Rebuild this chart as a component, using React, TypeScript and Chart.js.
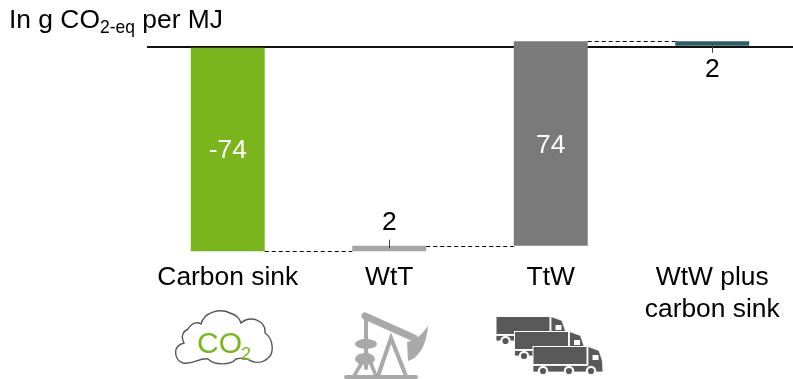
import React, { useEffect, useRef } from "react";
import { Chart, registerables } from "chart.js";

Chart.register(...registerables);

const categories = ["Carbon sink", "WtT", "TtW", ["WtW plus", "carbon sink"]];
const barStarts = [0, -74, -72, 0];
const barEnds = [-74, -72, 2, 2];
const valueLabels = ["-74", "2", "74", "2"];
const barColors = ["#7AB51D", "#A6A6A6", "#7A7A7A", "#2C5F68"];
const labelColors = ["#FFFFFF", "#000000", "#FFFFFF", "#000000"];
const FONT = "'Liberation Sans', Arial, sans-serif";

const waterfallPlugin = {
  id: "waterfallDecor",
  afterDatasetsDraw(chart: any) {
    const { ctx, scales } = chart;
    const y = scales.y;
    const bars = chart.getDatasetMeta(0).data;
    ctx.save();
    // dashed connectors between consecutive bars
    ctx.strokeStyle = "#000000";
    ctx.lineWidth = 1;
    ctx.setLineDash([4, 3]);
    for (let i = 0; i < bars.length - 1; i++) {
      const py = Math.round(y.getPixelForValue(barEnds[i])) + 0.5;
      ctx.beginPath();
      ctx.moveTo(bars[i].x + bars[i].width / 2, py);
      ctx.lineTo(bars[i + 1].x - bars[i + 1].width / 2, py);
      ctx.stroke();
    }
    ctx.setLineDash([]);
    // value labels
    ctx.font = `26.4px ${FONT}`;
    ctx.textAlign = "center";
    ctx.textBaseline = "middle";
    bars.forEach((bar: any, i: number) => {
      const top = y.getPixelForValue(Math.max(barStarts[i], barEnds[i]));
      const bottom = y.getPixelForValue(Math.min(barStarts[i], barEnds[i]));
      let ly = (top + bottom) / 2 + 2;
      if (bottom - top < 20) {
        const below = i === bars.length - 1;
        ctx.strokeStyle = "#404040";
        ctx.lineWidth = 1;
        const lx = Math.round(bar.x) + 0.5;
        ctx.beginPath();
        if (below) {
          ctx.moveTo(lx, top + 3);
          ctx.lineTo(lx, bottom + 6);
          ly = bottom + 23;
        } else {
          ctx.moveTo(lx, top - 6);
          ctx.lineTo(lx, bottom - 3);
          ly = top - 23;
        }
        ctx.stroke();
      }
      ctx.fillStyle = labelColors[i];
      ctx.fillText(valueLabels[i], bar.x, ly);
    });
    ctx.restore();
  },
};

function Truck({ dx, dy, wheels, tall }: { dx: number; dy: number; wheels: number[]; tall?: boolean }) {
  const dark = "#595959";
  const bottom = tall ? 342 : 341;
  return (
    <g transform={`translate(${dx} ${dy})`}>
      <rect x={496} y={316.5} width={54} height={18} fill={dark} stroke="#fff" strokeWidth={1} />
      <path
        d={`M551 316.5 L562 320.5 L565.5 331 L566 ${bottom} L496 ${bottom} L496 335.5 L551 335.5 Z`}
        fill={dark}
        stroke="#fff"
        strokeWidth={0.8}
      />
      <rect x={555.5} y={325} width={6} height={5} fill="#fff" />
      {wheels.map((x) => (
        <g key={x}>
          <circle cx={x} cy={341} r={5.2} fill="#fff" />
          <circle cx={x} cy={341} r={3.1} fill={dark} />
        </g>
      ))}
    </g>
  );
}

function Icons() {
  const gray = "#A9A9A9";
  return (
    <svg width={793} height={379} style={{ position: "absolute", left: 0, top: 0, pointerEvents: "none" }}>
      {/* cloud */}
      <path
        d="M183 363 C174 360 172 346 184 343 C180 335 184 331 188 329 C192 322 198 322 201 324 C204 312 220 308 230 313 C236 315 240 319 241 323 C250 315 266 320 265 333 C274 339 274 354 268 358 C263 363 256 363 251 361 C246 357 240 358 236 359 C230 366 214 365 208 359 C200 357 193 365 183 363 Z"
        fill="#fff"
        stroke="#555"
        strokeWidth={1.4}
      />
      <text x={197} y={353} fontFamily={FONT} fontSize={30} fill="#7AB51D">CO</text>
      <text x={241} y={360} fontFamily={FONT} fontSize={18} fill="#7AB51D">2</text>
      {/* pump jack */}
      <g stroke={gray} fill="none" strokeLinecap="round">
        <path d="M346 377 H416" strokeWidth={4} />
        <path d="M365 316 L414 338" strokeWidth={7} />
        <path d="M366 318 V368" strokeWidth={4} />
        <path d="M378 376 L391 338 L406 376" strokeWidth={4} />
        <path d="M354 376 L367 354 L376 376" strokeWidth={3.5} />
      </g>
      <path d="M428 326 C427 342 420 358 408 361 L407 342 C417 340 423 333 428 326 Z" fill={gray} />
      <ellipse cx={366} cy={344} rx={11} ry={5} fill={gray} />
      <ellipse cx={365} cy={359} rx={10} ry={6} fill={gray} />
      {/* trucks */}
      <Truck dx={0} dy={0} wheels={[505.5]} />
      <Truck dx={18.5} dy={15} wheels={[505.5]} />
      <Truck dx={37} dy={30} wheels={[506, 532, 554]} tall />
    </svg>
  );
}

export default function App() {
  const ref = useRef<HTMLCanvasElement | null>(null);
  useEffect(() => {
    if (!ref.current) return;
    const chart = new Chart(ref.current, {
      type: "bar",
      data: {
        labels: categories as any,
        datasets: [
          {
            data: barStarts.map((s, i) => [s, barEnds[i]]) as any,
            backgroundColor: barColors,
            borderWidth: 0,
            borderSkipped: false,
            categoryPercentage: 1,
            barPercentage: 0.458,
          },
        ],
      },
      options: {
        responsive: false,
        animation: false,
        layout: { padding: { top: 33, left: 0, right: 0, bottom: 0 } },
        plugins: { legend: { display: false }, tooltip: { enabled: false } },
        scales: {
          x: {
            position: "bottom",
            grid: { display: false },
            border: { display: false },
            afterFit: (s: any) => {
              s.height = 125;
            },
            ticks: {
              color: "#000000",
              font: { family: FONT, size: 26.4, lineHeight: 1.21 },
              padding: 0,
              maxRotation: 0,
              autoSkip: false,
            },
          },
          y: {
            min: -75,
            max: 5,
            afterFit: (s: any) => {
              s.width = 147;
            },
            afterBuildTicks: (s: any) => {
              s.ticks = [{ value: 0 }];
            },
            border: { display: false },
            ticks: { display: false },
            grid: {
              color: "#111111",
              lineWidth: 2,
              drawTicks: false,
            },
          },
        },
      },
      plugins: [waterfallPlugin],
    } as any);
    return () => chart.destroy();
  }, []);

  return (
    <div style={{ position: "fixed", left: 0, top: 0, width: 793, height: 379, background: "#fff", overflow: "hidden" }}>
      <canvas ref={ref} width={793} height={379} style={{ position: "absolute", left: 0, top: 0 }} />
      <Icons />
      <div
        style={{
          position: "absolute",
          left: 9,
          top: 4,
          fontFamily: FONT,
          fontSize: 26.4,
          lineHeight: "30px",
          color: "#000",
          whiteSpace: "nowrap",
        }}
      >
        In g CO
        <sub style={{ fontSize: 17.5, lineHeight: 0, verticalAlign: -5 }}>2-eq</sub> per MJ
      </div>
    </div>
  );
}
